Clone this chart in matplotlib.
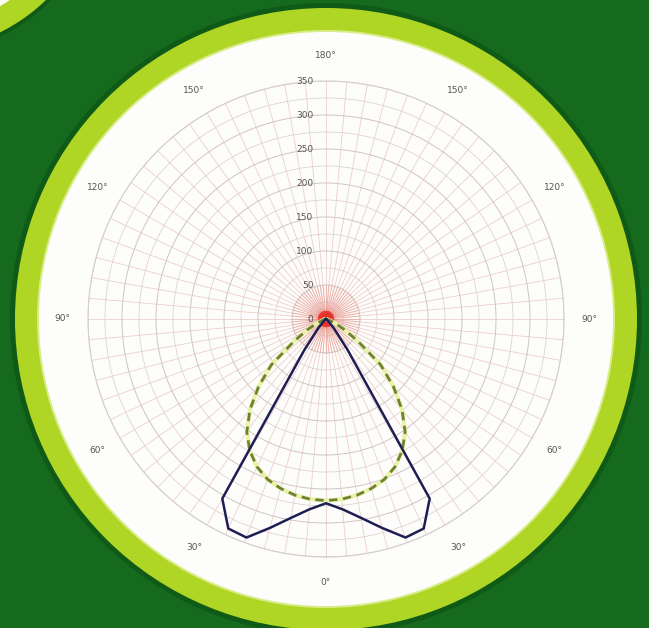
import numpy as np
import matplotlib
matplotlib.use("Agg")
import matplotlib.pyplot as plt
from matplotlib.patches import Circle

# ---- data (cd/klm); symmetric about 0° ----
angles_deg = [0, 5, 10, 15, 20, 25, 30, 35, 40, 45, 50, 55, 60, 65, 70, 75, 80, 85, 90]
c0_c180 = [271, 281, 297, 318, 342, 340, 305, 55, 18, 6, 2, 1, 0, 0, 0, 0, 0, 0, 0]
c90_c270 = [267, 266, 263, 258, 251, 240, 224, 203, 174, 140, 105, 58, 32, 15, 5, 2, 1, 0, 0]
r_ticks = [0, 50, 100, 150, 200, 250, 300, 350]
angle_label_values = [0, 30, 60, 90, 120, 150, 180]
angle_labels = ["0°", "30°", "60°", "90°", "120°", "150°", "180°"]

W, H = 649, 628
fig = plt.figure(figsize=(W / 100, H / 100), dpi=100)
fig.patch.set_facecolor("#156a1e")

# ---- decorative background ----
bg = fig.add_axes([0, 0, 1, 1])
bg.set_xlim(0, W)
bg.set_ylim(H, 0)
bg.axis("off")
cx, cy = 326, 319
bg.add_patch(Circle((-80, -130), 185, color="#0f5a17", lw=0))
bg.add_patch(Circle((-80, -130), 181, color="#b0d625", lw=0))
bg.add_patch(Circle((-80, -130), 158, color="#fbfdf4", lw=0))
bg.add_patch(Circle((cx, cy), 316, color="#0f5a17", lw=0))
bg.add_patch(Circle((cx, cy), 311, color="#b0d625", lw=0))
bg.add_patch(Circle((cx, cy), 289, color="#d9ec8a", lw=0))
bg.add_patch(Circle((cx, cy), 287, color="#fdfdfb", lw=0))

# ---- polar chart ----
R = 238
ax = fig.add_axes([(cx - R) / W, (H - cy - R) / H, 2 * R / W, 2 * R / H],
                  projection="polar")
ax.set_facecolor("none")
ax.set_theta_zero_location("S")
ax.set_ylim(0, 350)

ax.set_xticks(np.radians(np.arange(0, 360, 5)))
ax.set_xticklabels([])
ax.set_yticks(r_ticks)
ax.set_yticklabels([])
ax.set_yticks(np.arange(25, 350, 50), minor=True)
ax.xaxis.grid(True, color="#d89890", alpha=0.45, lw=0.6)
ax.yaxis.grid(True, which="major", color="#cdbebc", alpha=0.9, lw=0.7)
ax.yaxis.grid(True, which="minor", color="#dccfcd", alpha=0.9, lw=0.6)
ax.tick_params(length=0, which="both")
ax.spines["polar"].set_color("#d8cccc")
ax.spines["polar"].set_linewidth(0.8)

# red convergence of the radial grid near the centre
spokes = np.radians(np.arange(0, 360, 5))
ax.vlines(spokes, 0, 50, color="#e8402c", alpha=0.22, lw=0.8, zorder=2)
ax.vlines(spokes, 0, 12, color="#e8302a", alpha=0.6, lw=1.2, zorder=2)

# radial value labels
for v in r_ticks:
    ax.annotate(str(v), xy=(np.pi, v), xytext=(-9, 0), textcoords="offset points",
                ha="right", va="center", fontsize=6.5, color="#555555")

# angle labels on both sides
for a, lab in zip(angle_label_values, angle_labels):
    for s in ([1] if a in (0, 180) else [1, -1]):
        ax.text(np.radians(s * a), 388, lab, ha="center", va="center",
                fontsize=6.5, color="#555555", clip_on=False)

# mirrored curves
ang = np.array(angles_deg, dtype=float)
theta = np.radians(np.concatenate([-ang[::-1], ang[1:]]))
solid = np.concatenate([np.array(c0_c180)[::-1], np.array(c0_c180)[1:]])
dashed = np.concatenate([np.array(c90_c270)[::-1], np.array(c90_c270)[1:]])

ax.plot(theta, dashed, color="#e9f2a6", lw=3.0, solid_capstyle="round", zorder=3)
ax.plot(theta, dashed, color="#6f8234", lw=2.0, ls=(0, (3, 2)), zorder=4)
ax.plot(theta, solid, color="#1e1e55", lw=1.8, zorder=5)

fig.savefig("out.png", dpi=100, facecolor=fig.get_facecolor())
